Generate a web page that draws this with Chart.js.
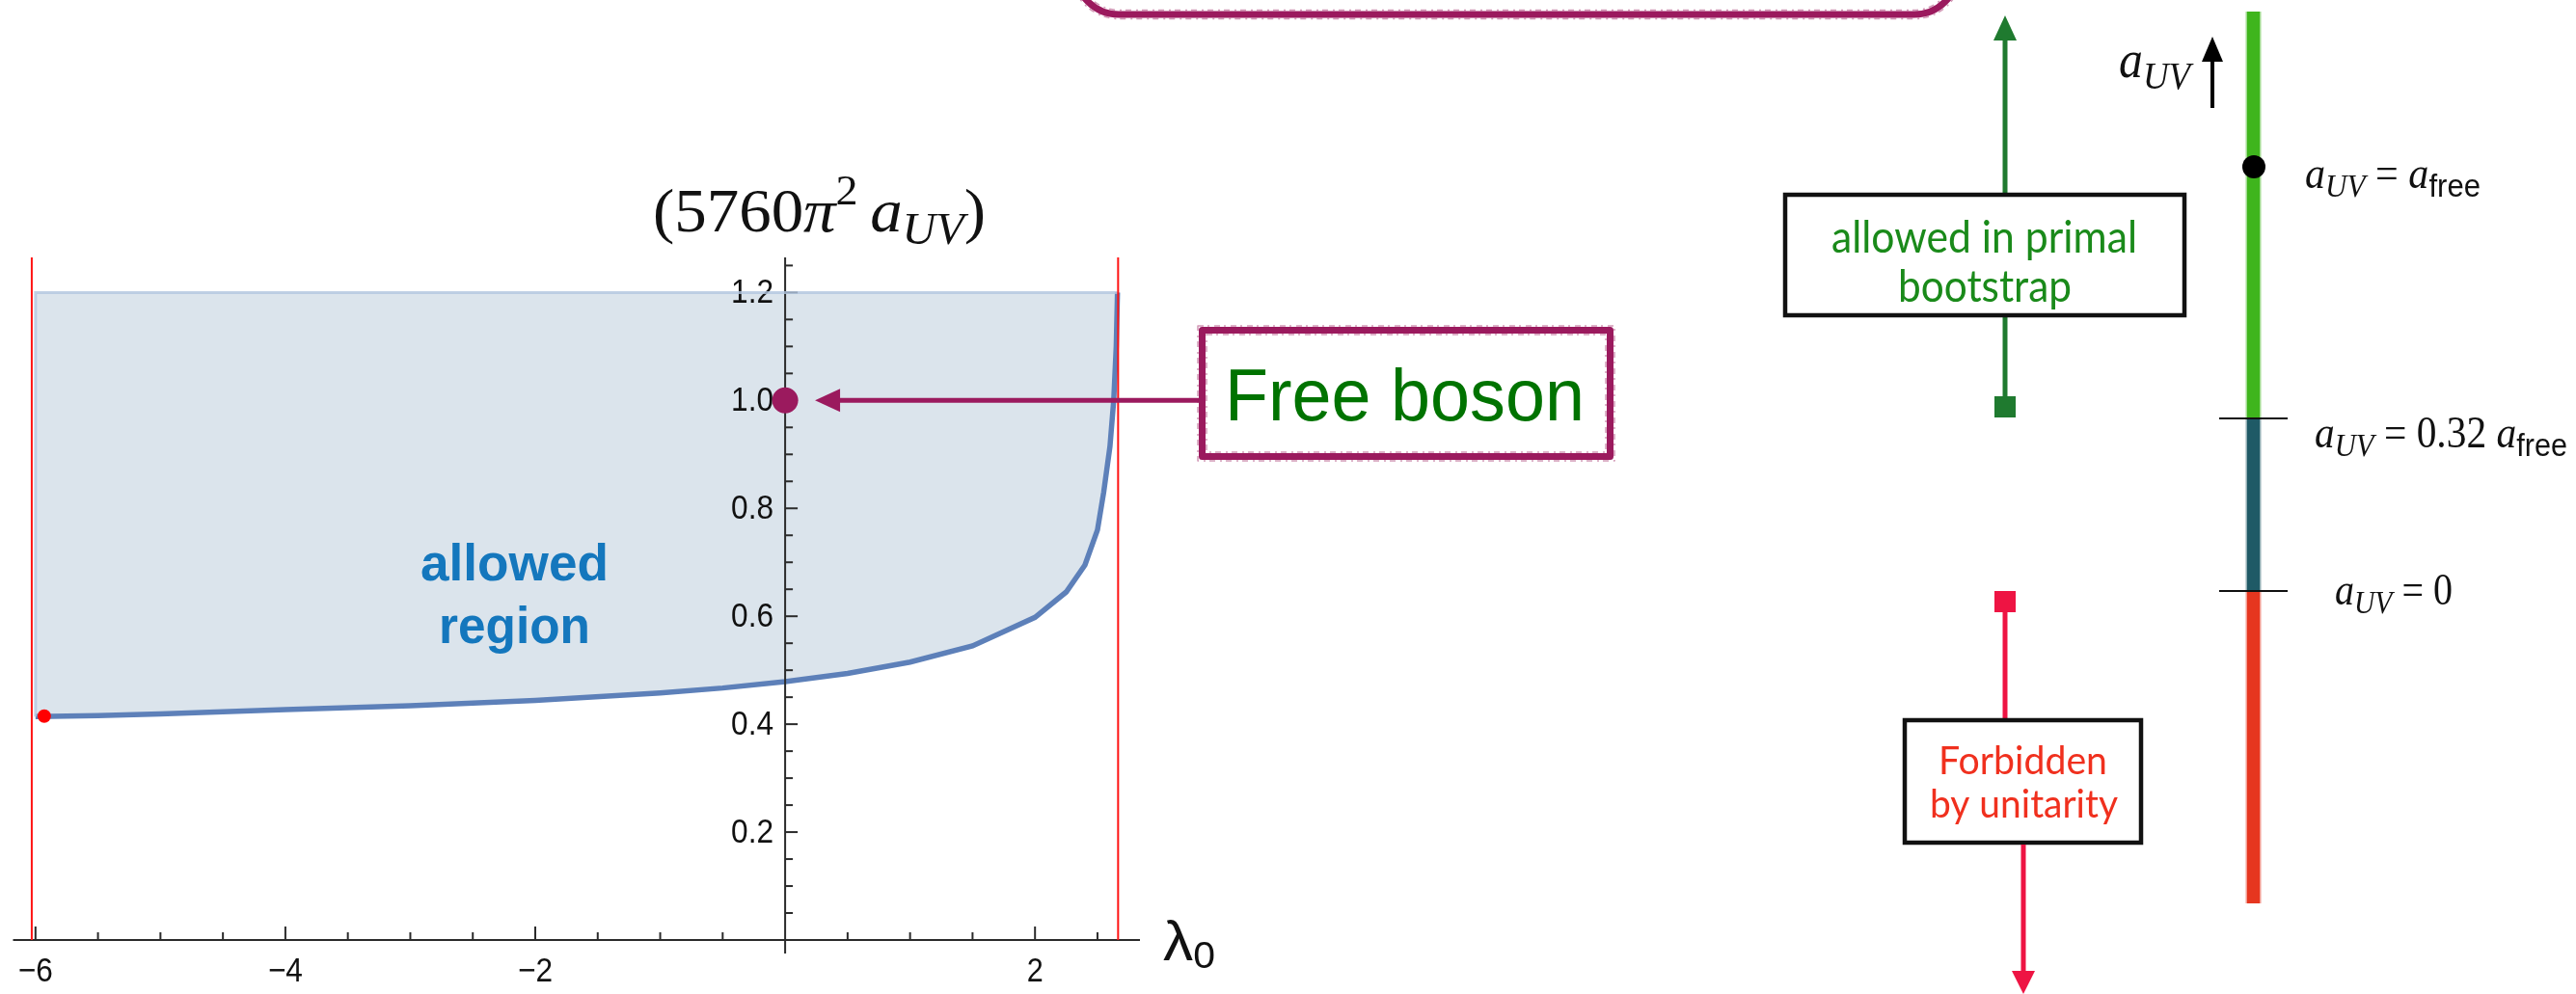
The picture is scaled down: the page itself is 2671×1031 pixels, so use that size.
<!DOCTYPE html>
<html><head><meta charset="utf-8">
<script src="https://cdn.jsdelivr.net/npm/chart.js@4.4.0/dist/chart.umd.min.js"></script>
<style>html,body{margin:0;padding:0;background:#fff;overflow:hidden}#wrap{position:absolute;left:0;top:0;width:2671px;height:1031px}</style>
</head><body><div id="wrap"><canvas id="c" width="2671" height="1031"></canvas></div>
<script>
// ---- data ----
const lambdaValues = [-6, -5.5, -5, -4, -3, -2, -1, -0.5, 0, 0.5, 1, 1.5, 2, 2.25, 2.4, 2.5, 2.55, 2.6, 2.63, 2.65, 2.66];
const aUVBound     = [0.414, 0.416, 0.419, 0.427, 0.434, 0.444, 0.458, 0.467, 0.479, 0.494, 0.515, 0.545, 0.598, 0.645, 0.695, 0.760, 0.830, 0.915, 1.0, 1.1, 1.2];
const regionTop = 1.2;
const edgePoint = [-5.93, 0.415];
const freeBosonPoint = [0, 1.0];
const redLinesX = [-6.03, 2.665];
const redLineTop = 1.27;
const xMajorTicks = [-6, -4, -2, 2];
const xTickLabels = ['\u22126', '\u22124', '\u22122', '2'];
const xMinorTicks = [-5.5, -5, -4.5, -3.5, -3, -2.5, -1.5, -1, -0.5, 0.5, 1, 1.5, 2.5];
const yMajorTicks = [0.2, 0.4, 0.6, 0.8, 1.0, 1.2];
const yTickLabels = ['0.2', '0.4', '0.6', '0.8', '1.0', '1.2'];
const yMinorTicks = [0.05, 0.1, 0.15, 0.25, 0.3, 0.35, 0.45, 0.5, 0.55, 0.65, 0.7, 0.75, 0.85, 0.9, 0.95, 1.05, 1.1, 1.15, 1.25];

const curvePts = lambdaValues.map((x, i) => ({x: x, y: aUVBound[i]}));
const borderPts = [{x: lambdaValues[0], y: aUVBound[0]}, {x: lambdaValues[0], y: regionTop}, {x: lambdaValues[lambdaValues.length - 1], y: regionTop}];

const PURPLE = '#9b1a5e';

function runs(ctx, parts, x0, x1, baseline, color) {
  ctx.save();
  let w = 0;
  parts.forEach(p => { ctx.font = p.f; p.w = ctx.measureText(p.t).width; w += p.w + (p.gap || 0); });
  const s = (x1 - x0) / w;
  ctx.translate(x0, baseline);
  ctx.scale(s, 1);
  ctx.fillStyle = color;
  ctx.textAlign = 'left';
  ctx.textBaseline = 'alphabetic';
  let cx = 0;
  parts.forEach(p => { ctx.font = p.f; ctx.fillStyle = p.c || color; ctx.fillText(p.t, cx, p.dy || 0); cx += p.w + (p.gap || 0); });
  ctx.restore();
}

function arrowV(ctx, x, yFrom, yTip, color, w, hw, hl) {
  const dir = yTip < yFrom ? -1 : 1;
  ctx.save();
  ctx.strokeStyle = color; ctx.fillStyle = color; ctx.lineWidth = w;
  ctx.beginPath(); ctx.moveTo(x, yFrom); ctx.lineTo(x, yTip - dir * hl); ctx.stroke();
  ctx.beginPath(); ctx.moveTo(x, yTip); ctx.lineTo(x - hw, yTip - dir * hl); ctx.lineTo(x + hw, yTip - dir * hl); ctx.closePath(); ctx.fill();
  ctx.restore();
}

function roughRect(ctx, x, y, w, h, color, lw, r) {
  ctx.save();
  ctx.strokeStyle = color; ctx.lineWidth = lw; ctx.lineJoin = 'round';
  ctx.beginPath();
  if (r) ctx.roundRect(x, y, w, h, r); else ctx.rect(x, y, w, h);
  ctx.stroke();
  ctx.globalAlpha = 0.45; ctx.lineWidth = 1.5;
  for (const d of [-lw / 2 - 1, lw / 2 + 1]) {
    ctx.beginPath();
    if (r) ctx.roundRect(x - d, y - d, w + 2 * d, h + 2 * d, Math.max(0, r + d)); else ctx.rect(x - d, y - d, w + 2 * d, h + 2 * d);
    ctx.setLineDash([6, 4, 2, 5]);
    ctx.stroke();
  }
  ctx.restore();
}

function roughBar(ctx, x, y0, y1, w, color) {
  ctx.save();
  ctx.fillStyle = color;
  ctx.fillRect(x, y0, w, y1 - y0);
  ctx.globalAlpha = 0.5;
  ctx.fillRect(x - 1.5, y0, 1.5, y1 - y0);
  ctx.fillRect(x + w, y0, 1.5, y1 - y0);
  ctx.restore();
}

const axesPlugin = {
  id: 'axesPlugin',
  afterDatasetDraw(chart, args) {
    if (args.index !== 0) return;
    const ctx = chart.ctx, xs = chart.scales.x, ys = chart.scales.y, ca = chart.chartArea;
    const y0 = ys.getPixelForValue(0), x0 = xs.getPixelForValue(0);
    ctx.save();
    ctx.strokeStyle = '#2b2b2b'; ctx.lineWidth = 2;
    ctx.beginPath(); ctx.moveTo(ca.left, y0); ctx.lineTo(ca.right, y0); ctx.stroke();
    ctx.beginPath(); ctx.moveTo(x0, ca.top); ctx.lineTo(x0, ca.bottom); ctx.stroke();
    ctx.lineWidth = 2;
    xMajorTicks.forEach(v => { const p = xs.getPixelForValue(v); ctx.beginPath(); ctx.moveTo(p, y0); ctx.lineTo(p, y0 - 14); ctx.stroke(); });
    xMinorTicks.forEach(v => { const p = xs.getPixelForValue(v); ctx.beginPath(); ctx.moveTo(p, y0); ctx.lineTo(p, y0 - 8); ctx.stroke(); });
    yMajorTicks.forEach(v => { const p = ys.getPixelForValue(v); ctx.beginPath(); ctx.moveTo(x0, p); ctx.lineTo(x0 + 13, p); ctx.stroke(); });
    yMinorTicks.forEach(v => { const p = ys.getPixelForValue(v); ctx.beginPath(); ctx.moveTo(x0, p); ctx.lineTo(x0 + 8, p); ctx.stroke(); });
    ctx.restore();
    const lf = '35px "Liberation Sans", Arial, sans-serif';
    xMajorTicks.forEach((v, i) => {
      const p = xs.getPixelForValue(v);
      const w = xTickLabels[i].length > 1 ? 36 : 17;
      runs(ctx, [{t: xTickLabels[i], f: lf}], p - w / 2, p + w / 2, y0 + 43, '#111');
    });
    yMajorTicks.forEach((v, i) => {
      const p = ys.getPixelForValue(v);
      runs(ctx, [{t: yTickLabels[i], f: lf}], x0 - 56, x0 - 12, p + 11, '#111');
    });
  },
  afterDraw(chart) {
    const ctx = chart.ctx, xs = chart.scales.x, ys = chart.scales.y;
    const serif = '"Liberation Serif", "Times New Roman", serif';
    const sf = '"Liberation Sans", Arial, sans-serif';
    runs(ctx, [
      {t: '(5760', f: '64px ' + serif},
      {t: '\u03c0', f: 'italic 64px ' + serif},
      {t: '2', f: '44px ' + serif, dy: -28, gap: 12},
      {t: 'a', f: 'italic 64px ' + serif},
      {t: 'UV', f: 'italic 46px ' + serif, dy: 13},
      {t: ')', f: '64px ' + serif}
    ], 677, 1022, 240, '#111');
    runs(ctx, [
      {t: '\u03bb', f: '58px ' + sf},
      {t: '0', f: '38px ' + sf, dy: 8}
    ], 1206, 1260, 996, '#111');
    runs(ctx, [{t: 'allowed', f: 'bold 54px ' + sf}], 436, 631, 602, '#1477bd');
    runs(ctx, [{t: 'region', f: 'bold 54px ' + sf}], 455, 612, 667, '#1477bd');
    // Free boson arrow + box
    const yb = ys.getPixelForValue(freeBosonPoint[1]);
    const tipX = xs.getPixelForValue(freeBosonPoint[0]) + 31;
    ctx.save();
    ctx.strokeStyle = PURPLE; ctx.fillStyle = PURPLE; ctx.lineWidth = 5;
    ctx.beginPath(); ctx.moveTo(1244, yb); ctx.lineTo(tipX + 22, yb); ctx.stroke();
    ctx.beginPath(); ctx.moveTo(tipX, yb); ctx.lineTo(tipX + 26, yb - 12); ctx.lineTo(tipX + 26, yb + 12); ctx.closePath(); ctx.fill();
    ctx.restore();
    roughRect(ctx, 1246.5, 342.5, 423, 131, PURPLE, 7, 0);
    runs(ctx, [{t: 'Free boson', f: '76px ' + sf}], 1270, 1643, 436, '#007300');
    roughRect(ctx, 1115, -300, 915, 315, PURPLE, 7, 45);

    // ---- right schematic ----
    const G = '#1f7a2f', R = '#ee1443';
    arrowV(ctx, 2079, 200, 16, G, 5, 12, 26);
    ctx.save();
    ctx.lineWidth = 5; ctx.strokeStyle = G;
    ctx.beginPath(); ctx.moveTo(2079, 329); ctx.lineTo(2079, 415); ctx.stroke();
    ctx.fillStyle = G; ctx.fillRect(2068, 411, 22, 22);
    ctx.strokeStyle = R;
    ctx.beginPath(); ctx.moveTo(2079, 630); ctx.lineTo(2079, 746); ctx.stroke();
    ctx.fillStyle = R; ctx.fillRect(2068, 613, 22, 22);
    ctx.lineWidth = 4.5; ctx.strokeStyle = '#111';
    ctx.strokeRect(1851, 202, 414, 125);
    ctx.strokeRect(1975, 747, 245, 127);
    ctx.restore();
    arrowV(ctx, 2098, 876, 1031, R, 5, 12, 24);
    const boxFont = '47px Lato, "Noto Sans", sans-serif';
    runs(ctx, [{t: 'allowed in primal', f: boxFont}], 1899, 2216, 262, '#1a8a1a');
    runs(ctx, [{t: 'bootstrap', f: boxFont}], 1968, 2148, 313, '#1a8a1a');
    const boxFont2 = '41px Lato, "Noto Sans", sans-serif';
    runs(ctx, [{t: 'Forbidden', f: boxFont2}], 2010, 2185, 803, '#f0301e');
    runs(ctx, [{t: 'by unitarity', f: boxFont2}], 2001, 2196, 848, '#f0301e');

    roughBar(ctx, 2330, 12, 434, 13, '#3fb51d');
    roughBar(ctx, 2330, 434, 613, 13, '#1f5a66');
    roughBar(ctx, 2330, 613, 937, 13, '#e6361f');
    ctx.save();
    ctx.strokeStyle = '#111'; ctx.lineWidth = 2;
    ctx.beginPath(); ctx.moveTo(2301, 434); ctx.lineTo(2372, 434); ctx.stroke();
    ctx.beginPath(); ctx.moveTo(2301, 613); ctx.lineTo(2372, 613); ctx.stroke();
    ctx.fillStyle = '#000';
    ctx.beginPath(); ctx.arc(2337, 173, 12, 0, Math.PI * 2); ctx.fill();
    ctx.restore();
    arrowV(ctx, 2294, 112, 38, '#000', 4, 11, 26);
    runs(ctx, [{t: 'a', f: 'italic 54px ' + serif}, {t: 'UV', f: 'italic 40px ' + serif, dy: 12}], 2197, 2271, 80, '#111');
    runs(ctx, [
      {t: 'a', f: 'italic 46px ' + serif}, {t: 'UV', f: 'italic 34px ' + serif, dy: 9},
      {t: ' = ', f: '46px ' + serif}, {t: 'a', f: 'italic 46px ' + serif}, {t: 'free', f: '34px ' + sf, dy: 9}
    ], 2390, 2572, 195, '#111');
    runs(ctx, [
      {t: 'a', f: 'italic 46px ' + serif}, {t: 'UV', f: 'italic 34px ' + serif, dy: 9},
      {t: ' = 0.32 ', f: '46px ' + serif}, {t: 'a', f: 'italic 46px ' + serif}, {t: 'free', f: '34px ' + sf, dy: 9}
    ], 2400, 2662, 464, '#111');
    runs(ctx, [
      {t: 'a', f: 'italic 46px ' + serif}, {t: 'UV', f: 'italic 34px ' + serif, dy: 9},
      {t: ' = 0', f: '46px ' + serif}
    ], 2421, 2543, 627, '#111');
  }
};

new Chart(document.getElementById('c'), {
  type: 'scatter',
  data: {
    datasets: [
      {label: 'bound', data: curvePts, showLine: true, borderColor: '#5d80b9', borderWidth: 5.5, pointRadius: 0, tension: 0,
       fill: {value: regionTop}, backgroundColor: '#dbe4ec', order: 10},
      {label: 'region edge', data: borderPts, showLine: true, borderColor: 'rgba(178,198,224,0.8)', borderWidth: 3, pointRadius: 0, fill: false, order: 9},
      {label: 'left wall', data: [{x: redLinesX[0], y: 0}, {x: redLinesX[0], y: redLineTop}], showLine: true, borderColor: '#ff1414', borderWidth: 2, pointRadius: 0, fill: false, order: 5},
      {label: 'right wall', data: [{x: redLinesX[1], y: 0}, {x: redLinesX[1], y: redLineTop}], showLine: true, borderColor: '#ff1414', borderWidth: 2, pointRadius: 0, fill: false, order: 5},
      {label: 'edge point', data: [{x: edgePoint[0], y: edgePoint[1]}], pointRadius: 7, pointBackgroundColor: '#ff0000', pointBorderWidth: 0, order: 2},
      {label: 'free boson', data: [{x: freeBosonPoint[0], y: freeBosonPoint[1]}], pointRadius: 13.5, pointBackgroundColor: PURPLE, pointBorderWidth: 0, order: 1}
    ]
  },
  options: {
    responsive: false, devicePixelRatio: 1, animation: false,
    layout: {padding: {left: 12, right: 1489, top: 267, bottom: 42}},
    scales: {
      x: {type: 'linear', min: -6.18, max: 2.84, display: false},
      y: {type: 'linear', min: -0.025, max: 1.265, display: false}
    },
    plugins: {legend: {display: false}, tooltip: {enabled: false}, filler: {propagate: false}}
  },
  plugins: [axesPlugin]
});
</script></body></html>
